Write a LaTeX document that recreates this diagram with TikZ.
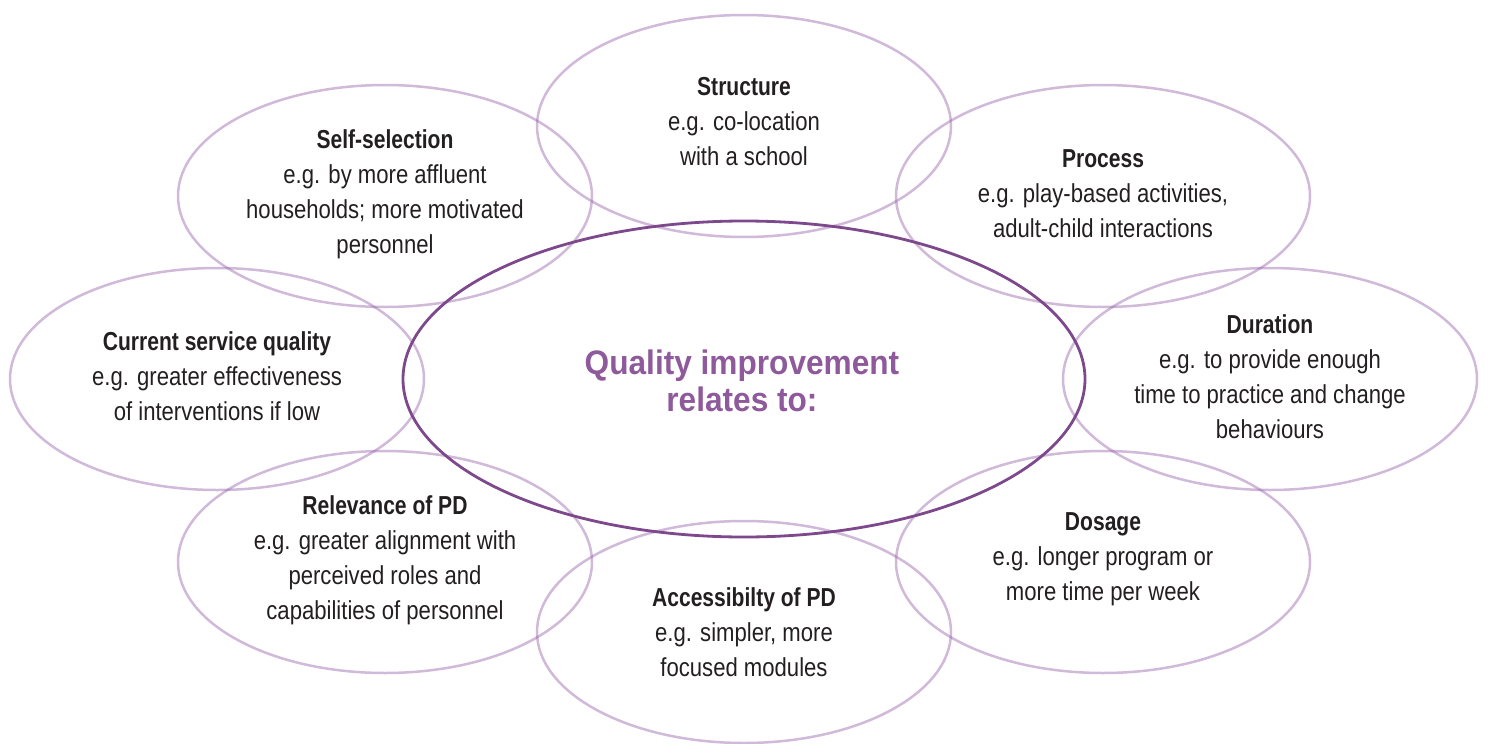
\documentclass[tikz,border=0pt]{standalone}
\usepackage{fontspec}
\setmainfont{Liberation Sans}[FakeStretch=0.85]
\newfontfamily\hdfont{Liberation Sans}[FakeStretch=0.81]
\newfontfamily\ttlfont{Liberation Sans}[FakeStretch=0.93]
\usetikzlibrary{shapes.geometric}
\definecolor{ringcol}{RGB}{150,100,170}
\definecolor{centcol}{RGB}{125,72,140}
\definecolor{ttlcol}{RGB}{142,90,155}
\definecolor{txtcol}{RGB}{35,31,32}
\tikzset{
  outer/.style={ellipse, draw=ringcol, draw opacity=0.45, line width=2.5pt,
    minimum width=414pt, minimum height=222pt, inner sep=0pt},
  central/.style={ellipse, draw=centcol, line width=2.8pt,
    minimum width=682pt, minimum height=316pt, inner sep=0pt},
  txt/.style={align=center, text=txtcol, inner sep=0pt,
    font=\fontsize{26}{35}\selectfont},
  ttl/.style={align=center, text=ttlcol, inner sep=0pt,
    font=\ttlfont\bfseries\fontsize{34}{37}\selectfont}
}
\newcommand{\hdl}[1]{{\hdfont\bfseries #1}}
\begin{document}
\begin{tikzpicture}[x=1pt,y=-1pt]
\useasboundingbox (0,0) rectangle (1489,744);
% outer ellipses
\node[outer] (struct) at (744,126) {};
\node[outer] (selfsel) at (385,196) {};
\node[outer] (process) at (1103,196) {};
\node[outer] (current) at (217,379) {};
\node[outer] (duration) at (1270,379) {};
\node[outer] (relev) at (385,562) {};
\node[outer] (dosage) at (1103,562) {};
\node[outer] (access) at (744,632) {};
% central ellipse
\node[central] (centre) at (744,379) {};
% texts
\node[txt] (tstruct) at (744,122) {\hdl{Structure}\\e.g. co-location\\with a school};
\node[txt] (tselfsel) at (385,194) {\hdl{Self-selection}\\e.g. by more affluent\\households; more motivated\\personnel};
\node[txt] (tprocess) at (1103,194) {\hdl{Process}\\e.g. play-based activities,\\adult-child interactions};
\node[txt] (tcurrent) at (217,376) {\hdl{Current service quality}\\e.g. greater effectiveness\\of interventions if low};
\node[txt] (tduration) at (1270,377) {\hdl{Duration}\\e.g. to provide enough\\time to practice and change\\behaviours};
\node[txt] (trelev) at (385,560) {\hdl{Relevance of PD}\\e.g. greater alignment with\\perceived roles and\\capabilities of personnel};
\node[txt] (tdosage) at (1103,559) {\hdl{Dosage}\\e.g. longer program or\\more time per week};
\node[txt] (taccess) at (744,632) {\hdl{Accessibilty of PD}\\e.g. simpler, more\\focused modules};
\node[ttl] (title) at (742,381) {Quality improvement\\relates to:};
\end{tikzpicture}
\end{document}
